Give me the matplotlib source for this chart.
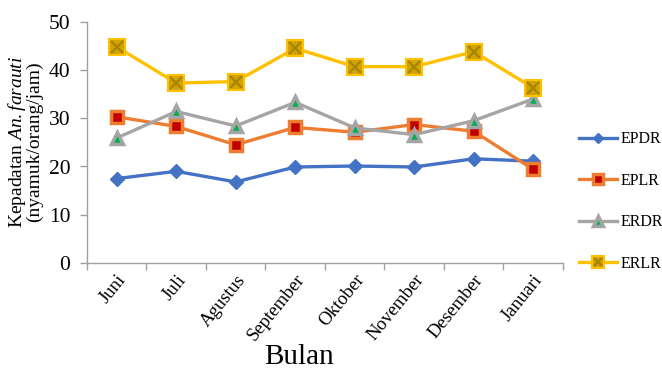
import matplotlib
matplotlib.use('Agg')
import matplotlib.pyplot as plt
import numpy as np

plt.rcParams['font.family'] = ['Liberation Serif', 'DejaVu Serif']
plt.rcParams['mathtext.fontset'] = 'custom'
plt.rcParams['mathtext.rm'] = 'Liberation Serif'
plt.rcParams['mathtext.it'] = 'Liberation Serif:italic'

# Monthly density per series
bulan = ['Juni', 'Juli', 'Agustus', 'September', 'Oktober', 'November', 'Desember', 'Januari']
epdr = [17.5, 19.0, 16.8, 19.9, 20.1, 19.9, 21.6, 21.1]
eplr = [30.3, 28.3, 24.5, 28.1, 27.1, 28.7, 27.3, 19.4]
erdr = [25.9, 31.4, 28.4, 33.3, 28.0, 26.6, 29.5, 34.0]
erlr = [44.8, 37.3, 37.6, 44.5, 40.7, 40.7, 43.8, 36.3]

fig = plt.figure(figsize=(6.62, 3.70), dpi=100)
ax = fig.add_axes([0.1314, 0.2892, 0.719, 0.652])

x = np.arange(len(bulan))
lw = 2.4

h1, = ax.plot(x, epdr, color='#4472C4', lw=lw, marker='D', ms=7,
              mfc='#4472C4', mec='#4472C4', label='EPDR')
h2, = ax.plot(x, eplr, color='#ED7D31', lw=lw, marker='s', ms=8.5,
              mfc='#C00000', mec='#ED7D31', mew=2.5, label='EPLR')
h3, = ax.plot(x, erdr, color='#A5A5A5', lw=lw, marker='^', ms=9,
              mfc='#00B050', mec='#A5A5A5', mew=2.5, label='ERDR')
h4, = ax.plot(x, erlr, color='#FFC000', lw=lw, marker='s', ms=11,
              mfc='#D2A400', mec='#FFC000', mew=1.5, label='ERLR')
h4x, = ax.plot(x, erlr, ls='none', marker='x', ms=8,
               mec='#A88400', mew=1.6)

ax.set_xlim(-0.5, len(bulan) - 0.5)
ax.set_ylim(0, 50)
ax.set_yticks(np.arange(0, 51, 10))
ax.set_xticks(x)
ax.set_xticklabels(bulan, rotation=51, ha='right', rotation_mode='anchor',
                   fontsize=13.5)
ax.set_xticks(np.arange(-0.5, len(bulan), 1), minor=True)
ax.tick_params(axis='x', which='major', length=0, pad=6)
ax.tick_params(axis='x', which='minor', length=5, color='#A0A0A0', width=1)
ax.tick_params(axis='y', length=5, color='#A0A0A0', width=1, labelsize=15.5, pad=7)

for side in ('top', 'right'):
    ax.spines[side].set_visible(False)
for side in ('left', 'bottom'):
    ax.spines[side].set_color('#A0A0A0')
    ax.spines[side].set_linewidth(1)

fig.text(0.452, 0.035, 'Bulan', fontsize=21, ha='center', va='center')
fig.text(0.037, 0.616, 'Kepadatan $\\mathit{An.farauti}$\n(nyamuk/orang/jam)',
         rotation=90, fontsize=14, ha='center', va='center',
         multialignment='center', linespacing=0.9)

fig.legend([h1, h2, h3, (h4, h4x)], ['EPDR', 'EPLR', 'ERDR', 'ERLR'],
           loc='center left', bbox_to_anchor=(0.874, 0.455), frameon=False,
           fontsize=11.5, handlelength=2.4, handletextpad=0.2, markerscale=0.8,
           labelspacing=1.6, numpoints=1, borderpad=0, borderaxespad=0)

fig.savefig('out.png', dpi=100)
